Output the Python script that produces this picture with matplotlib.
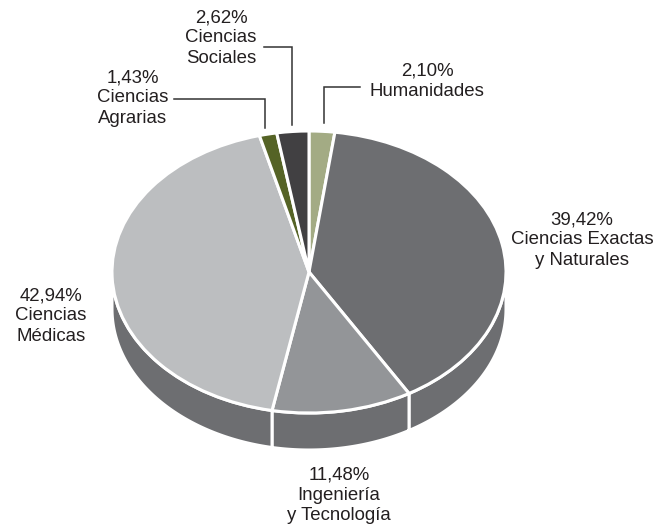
import numpy as np
import matplotlib
matplotlib.use("Agg")
import matplotlib.pyplot as plt
from matplotlib.patches import Polygon

plt.rcParams['font.family'] = ['Liberation Sans', 'DejaVu Sans']

names = ["Humanidades", "Ciencias Exactas\ny Naturales", "Ingeniería\ny Tecnología",
         "Ciencias\nMédicas", "Ciencias\nAgrarias", "Ciencias\nSociales"]
values = [2.10, 39.42, 11.48, 42.94, 1.43, 2.62]
labels = ["2,10%", "39,42%", "11,48%", "42,94%", "1,43%", "2,62%"]
colors = ["#a3ab84", "#6d6e71", "#939598", "#bcbec0", "#556326", "#414042"]
side_color = "#6d6e71"

# pixel layout of the disc
W, H = 654, 529
CX, CY = 309, 272
RX, RY = 197, 141
DEPTH = 37

# centre of each text block, same order as names
label_x = [427, 582, 339, 51, 133, 221]
label_y = [81.5, 240, 495, 316, 98, 38]

# leader lines: (xs, ys)
leader_lines = [
    ([360, 324, 324], [87, 87, 123]),
    ([174, 265, 265], [98.5, 98.5, 128]),
    ([264, 292, 292], [47, 47, 125]),
]

fig = plt.figure(figsize=(W / 100, H / 100), dpi=100)

# disc axes: one data unit is RX px across and RY px down, so the pie comes out elliptical
ax_pie = fig.add_axes([0, 0, 1, 1])
wedges, _ = ax_pie.pie(values, colors=colors, startangle=90, counterclock=False,
                       wedgeprops=dict(edgecolor="white", linewidth=2.2))
for wedge in wedges:
    wedge.set_zorder(3)
ax_pie.set_aspect("auto")
ax_pie.set_xlim(-CX / RX, (W - CX) / RX)
ax_pie.set_ylim((CY - H) / RY, CY / RY)
ax_pie.axis("off")

# front wall of the disc, one piece per slice that reaches the lower half
edges = np.cumsum([0] + values) / sum(values) * 360
for start, end in zip(edges[:-1], edges[1:]):
    a, b = max(start, 90), min(end, 270)
    if a >= b:
        continue
    t = np.radians(np.linspace(a, b, 80))
    top = np.column_stack([np.sin(t), np.cos(t)])
    bottom = top[::-1] - [0, DEPTH / RY]
    ax_pie.add_patch(Polygon(np.vstack([top, bottom]), facecolor=side_color,
                             edgecolor="white", linewidth=2.2, zorder=2))

# overlay in pixel coordinates for the text and leaders
ax = fig.add_axes([0, 0, 1, 1], facecolor="none")
ax.set_xlim(0, W)
ax.set_ylim(H, 0)
ax.axis("off")

for name, label, x, y in zip(names, labels, label_x, label_y):
    ax.text(x, y, label + "\n" + name, ha="center", va="center",
            fontsize=13.4, color="#231f20", linespacing=1.24)

for xs, ys in leader_lines:
    ax.plot(xs, ys, color="#333333", linewidth=1.1, solid_joinstyle="miter")

fig.savefig("out.png", dpi=100)
